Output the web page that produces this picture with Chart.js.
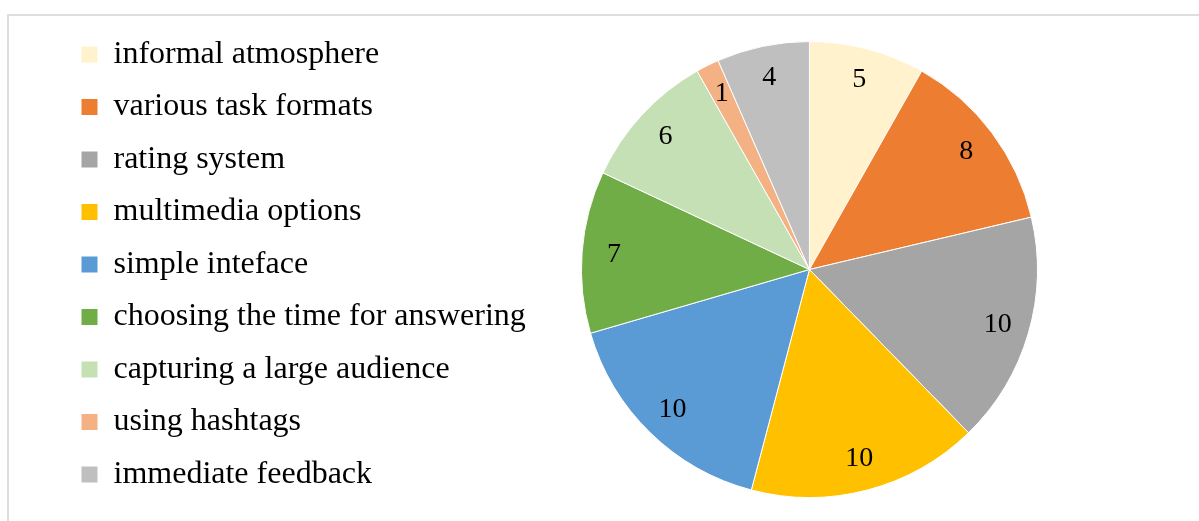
<!DOCTYPE html>
<html lang="en">
<head>
  <meta charset="UTF-8" />
  <title>Pie chart</title>
  <script src="https://cdn.jsdelivr.net/npm/chart.js"></script>
  <style>
    body { margin: 0; background: #fff; overflow: hidden; }
    .frame {
      position: absolute;
      left: 7px; top: 14px;
      width: 1300px; height: 600px;
      border: 2px solid #dedede;
    }
    #chart { position: absolute; left: 0; top: 0; }
  </style>
</head>
<body>
  <div class="frame"></div>
  <canvas id="chart" width="1199" height="521"></canvas>

  <script>
    const labels = [
      'informal atmosphere',
      'various task formats',
      'rating system',
      'multimedia options',
      'simple inteface',
      'choosing the time for answering',
      'capturing a large audience',
      'using hashtags',
      'immediate feedback'
    ];
    const values = [5, 8, 10, 10, 10, 7, 6, 1, 4];
    const colors = ['#FFF2CC', '#ED7D31', '#A5A5A5', '#FFC000', '#5B9BD5', '#70AD47', '#C5E0B4', '#F4B183', '#BFBFBF'];

    // value labels near the outer edge of each slice
    const sliceLabels = {
      id: 'sliceLabels',
      afterDatasetsDraw(chart) {
        const ctx = chart.ctx;
        const meta = chart.getDatasetMeta(0);
        ctx.save();
        ctx.font = '28px "Liberation Serif", "Times New Roman", serif';
        ctx.fillStyle = '#000';
        ctx.textAlign = 'center';
        ctx.textBaseline = 'middle';
        meta.data.forEach((arc, i) => {
          const p = arc.getProps(['x', 'y', 'startAngle', 'endAngle', 'outerRadius'], true);
          const mid = (p.startAngle + p.endAngle) / 2;
          const r = p.outerRadius * 0.86;
          ctx.fillText(values[i], p.x + Math.cos(mid) * r, p.y + Math.sin(mid) * r);
        });
        ctx.restore();
      }
    };

    new Chart(document.getElementById('chart'), {
      type: 'pie',
      data: {
        labels: labels,
        datasets: [{
          data: values,
          backgroundColor: colors,
          borderColor: '#fff',
          borderWidth: 1
        }]
      },
      options: {
        responsive: false,
        animation: false,
        radius: 228,
        layout: { padding: { left: 61, right: 116, top: 18, bottom: -3 } },
        plugins: {
          legend: {
            position: 'left',
            align: 'start',
            labels: {
              boxWidth: 16,
              boxHeight: 16,
              padding: 20.5,
              color: '#000',
              font: { family: '"Liberation Serif", "Times New Roman", serif', size: 32 },
              generateLabels(chart) {
                return labels.map((text, i) => ({
                  text: text,
                  fillStyle: colors[i],
                  strokeStyle: colors[i],
                  lineWidth: 0,
                  hidden: false,
                  index: i
                }));
              }
            }
          },
          tooltip: { enabled: false }
        }
      },
      plugins: [sliceLabels]
    });
  </script>
</body>
</html>
